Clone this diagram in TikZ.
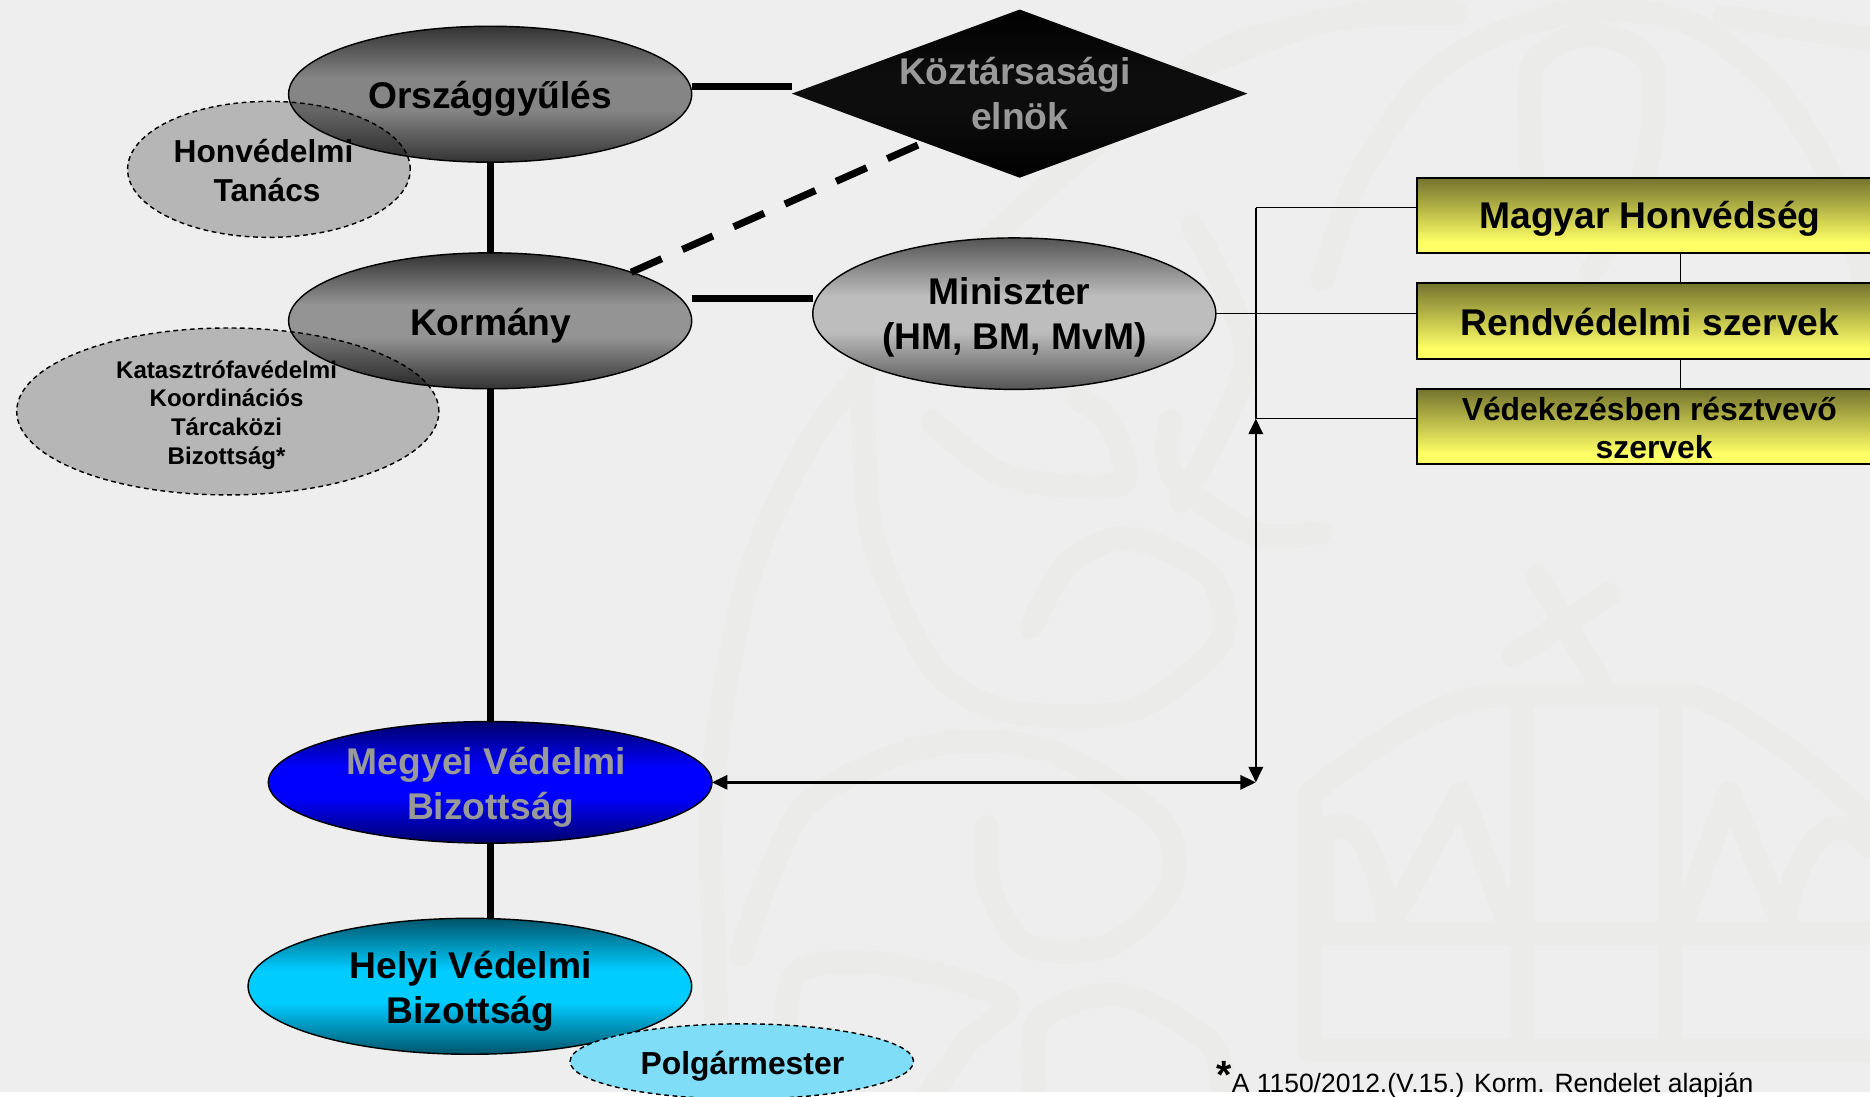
\documentclass[tikz,border=0pt]{standalone}
\usepackage{fontspec}
\setmainfont{Liberation Sans}
\usetikzlibrary{shapes.geometric,arrows.meta}
\definecolor{pagebg}{HTML}{EEEEEE}
\definecolor{wm}{HTML}{EBEBE9}
\definecolor{txgrey}{HTML}{999999}
\definecolor{polg}{HTML}{7FDDF7}
% shading: outer colour at the edges, inner colour in the middle band
\newcommand\bandshade[3]{\pgfdeclareverticalshading{#1}{100bp}{%
  rgb(0bp)=(#2); rgb(25bp)=(#2); rgb(44bp)=(#3); rgb(56bp)=(#3); rgb(75bp)=(#2); rgb(100bp)=(#2)}}
\bandshade{bandgov}{.2,.2,.2}{.52,.52,.52}
\bandshade{bandkor}{.2,.2,.2}{.58,.58,.58}
\bandshade{bandmin}{.33,.33,.33}{.74,.74,.74}
\bandshade{bandblue}{0,0,.42}{0,0,1}
\bandshade{bandcyan}{0,.33,.42}{0,.8,1}
\bandshade{banddia}{0,0,0}{.05,.05,.05}
\pgfdeclareverticalshading{bandyel}{100bp}{%
  rgb(0bp)=(1,1,.4); rgb(25bp)=(1,1,.4); rgb(32bp)=(1,1,.4); rgb(75bp)=(.45,.45,.18); rgb(100bp)=(.45,.45,.18)}
% zero-size label: dx, dy, size, leading, lines
\newcommand\zbox[5]{\hbox to 0pt{\hss\kern#1\kern#1\raisebox{#2}[0pt][0pt]{\fontsize{#3}{#4}\selectfont\bfseries\begin{tabular}{@{}c@{}}#5\end{tabular}}\hss}}
\tikzset{
  x=1pt,y=-1pt,
  blob/.style={shape=ellipse,draw=black,line width=1.2pt,inner sep=0pt,outer sep=0pt,minimum width=#1},
  dashblob/.style={shape=ellipse,draw=black,line width=1.2pt,dash pattern=on 4pt off 3pt,inner sep=0pt,outer sep=0pt,minimum width=#1},
  overlay tint/.style={fill=black,fill opacity=.23,text opacity=1,draw opacity=1},
  orgbox/.style={draw=black,line width=1.6pt,shading=bandyel,inner sep=0pt,outer sep=0pt,minimum width=390pt,minimum height=#1},
  heavy/.style={line width=6pt,black},
  thinlink/.style={line width=1.4pt,black},
  twoway/.style={line width=2pt,black,{Triangle[length=13pt,width=12pt]}-{Triangle[length=13pt,width=12pt]}},
  wmline/.style={draw=wm,line width=#1,line cap=round,line join=round},
}
\begin{document}
\begin{tikzpicture}
\useasboundingbox (0,0) rectangle (1568,919);
\clip (0,0) rectangle (1568,919);
\fill[white] (0,0) rectangle (1568,919);
\fill[pagebg] (0,0) rectangle (1568,915.6);
% faint emblem in the background
\begin{scope}
  \clip (0,0) rectangle (1568,915.6);
  \begin{scope}[wmline=20pt]
  \draw (1099,881) -- (1099,665) .. controls (1150,625) and (1210,583) .. (1259,583) -- (1419,583) .. controls (1470,600) and (1530,650) .. (1575,695);
  \draw (1099,881) -- (1575,881);
  \draw (1099,782) -- (1575,782);
  \draw (1276,590) -- (1276,881);
  \draw (1401,590) -- (1401,881);
  \draw (1289,483) -- (1344,577);
  \draw (1269,550) -- (1349,498);
  \draw (1108,775) -- (1108,700) .. controls (1125,680) and (1150,690) .. (1165,775);
  \draw (1165,775) -- (1225,665) -- (1265,775);
  \draw (1410,775) -- (1450,665) -- (1495,775);
  \draw (1495,775) .. controls (1510,690) and (1545,680) .. (1568,710);
  \draw plot[smooth] coordinates {(604,925) (597,670) (628,484) (690,354) (800,230) (920,120) (1034,38) (1209,0)};
  \draw plot[smooth] coordinates {(724,320) (731,447) (782,559) (844,596) (947,596) (1022,540) (1015,484) (947,451) (895,473) (865,525)};
  \draw plot[smooth] coordinates {(621,801) (673,678) (776,626) (878,629) (974,689) (981,745) (930,793) (861,793) (830,745) (827,693)};
  \draw plot[smooth] coordinates {(656,925) (666,819) (741,808) (844,838) (810,875) (775,925)};
  \draw plot[smooth] coordinates {(868,925) (871,856) (940,834) (1015,875) (1025,925)};
  \draw plot[smooth] coordinates {(782,354) (844,399) (940,406) (930,354) (905,335)};
  \draw plot[smooth] coordinates {(981,354) (984,399) (1050,447) (1107,447)};
  \draw plot[smooth] coordinates {(1000,190) (1045,300) (990,420)};
  \draw plot[smooth] coordinates {(1285,148) (1285,56) (1335,28) (1385,56) (1378,148) (1334,228)};
  \draw plot[smooth] coordinates {(1109,234) (1138,151) (1192,70) (1257,28) (1335,8) (1418,20) (1489,75) (1536,151) (1568,250)};
  \draw plot[smooth] coordinates {(1006,56) (1113,17) (1221,11)};
  \draw plot[smooth] coordinates {(1446,14) (1568,33)};
  \end{scope}
\end{scope}
% shapes
\node[blob=338pt,minimum height=114pt,shading=bandgov] (orsz) at (411,79) {\zbox{0pt}{-11pt}{31.2pt}{38pt}{Országgyűlés}};
\node[blob=338pt,minimum height=114pt,shading=bandkor] (korm) at (411,269) {\zbox{.5pt}{-11pt}{31.2pt}{38pt}{Kormány}};
\node[blob=338pt,minimum height=127pt,shading=bandmin] (mini) at (850.5,263) {\zbox{0pt}{-10pt}{31.2pt}{38pt}{Miniszter\hspace*{8pt}\\(HM, BM, MvM)}};
\node[blob=372pt,minimum height=102pt,shading=bandblue,text=txgrey] (megy) at (411,656) {\zbox{-1.5pt}{-11pt}{31.2pt}{38pt}{Megyei Védelmi\hspace*{3pt}\\\hspace*{4pt}Bizottság}};
\node[blob=372pt,minimum height=114pt,shading=bandcyan] (helyi) at (394,827) {\zbox{.5pt}{-11pt}{31.2pt}{38pt}{Helyi Védelmi\\Bizottság}};
\node[shape=diamond,aspect=2.71,inner sep=0pt,outer sep=0pt,minimum width=382pt,minimum height=141pt,shading=banddia,text=txgrey] (dia) at (855,78.5) {\zbox{0pt}{-10pt}{31.2pt}{38pt}{Köztársasági\hspace*{8pt}\\elnök}};
\node[dashblob=237pt,minimum height=114pt,overlay tint] (hont) at (225.5,142) {\zbox{-1.5pt}{-10pt}{26.6pt}{33pt}{Honvédelmi\hspace*{6pt}\\Tanács}};
\node[dashblob=354pt,minimum height=140pt,overlay tint] (kat) at (191,345) {\zbox{-1pt}{-8.5pt}{20.2pt}{24pt}{Katasztrófavédelmi\\Koordinációs\\Tárcaközi\\Bizottság*}};
\node[dashblob=288pt,minimum height=63pt,fill=polg] (polgm) at (622,890) {\zbox{.5pt}{-11pt}{26.7pt}{30pt}{Polgármester}};
% yellow boxes
\node[orgbox=63pt] (mh) at (1383,180.5) {\zbox{.5pt}{-10pt}{31.2pt}{38pt}{Magyar Honvédség}};
\node[orgbox=64pt] (rsz) at (1383,269) {\zbox{.5pt}{-11pt}{31.2pt}{38pt}{Rendvédelmi szervek}};
\node[orgbox=63pt] (vsz) at (1383,357.5) {\zbox{0pt}{-10.5pt}{26.7pt}{32pt}{Védekezésben résztvevő\\\hspace*{8pt}szervek}};
% free ends of the connectors
\coordinate (busN) at (1053,174);
\coordinate (busM) at (1053,263);
\coordinate (busS) at (1053,351);
\coordinate (busE) at (1053,656);
\coordinate (stem) at (1409,0);
% heavy connectors
\draw[heavy] (orsz.south) -- (korm.north);
\draw[heavy] (korm.south) -- (megy.north);
\draw[heavy] (megy.south) -- (megy.south |- helyi.north);
\draw[heavy] ([yshift=6.5pt]orsz.east) -- ([yshift=6pt]dia.west);
\draw[heavy] ([yshift=19pt]korm.east) -- ([yshift=13pt]mini.west);
\draw[heavy,dash pattern=on 28pt off 19pt] (korm.19) -- (dia.207.5);
% thin connectors
\draw[thinlink] (mini.east) -- (busM -| rsz.west);
\draw[thinlink] (busN) -- (busN -| mh.west);
\draw[thinlink] (busS) -- (busS -| vsz.west);
\draw[thinlink] (busN) -- (busS);
\draw[thinlink] (stem |- mh.south) -- (stem |- rsz.north);
\draw[thinlink] (stem |- rsz.south) -- (stem |- vsz.north);
\draw[twoway] (busS) -- (busE);
\draw[twoway] (megy.east) -- (busE);
% footnote
\node[anchor=base west,inner sep=0pt,outer sep=0pt,font=\fontsize{22.2pt}{26pt}\selectfont] (note) at (1020,916) {\raisebox{3pt}{\fontsize{33pt}{33pt}\selectfont\bfseries *}A 1150/2012.(V.15.) Korm. Rendelet alapján};
\end{tikzpicture}
\end{document}
